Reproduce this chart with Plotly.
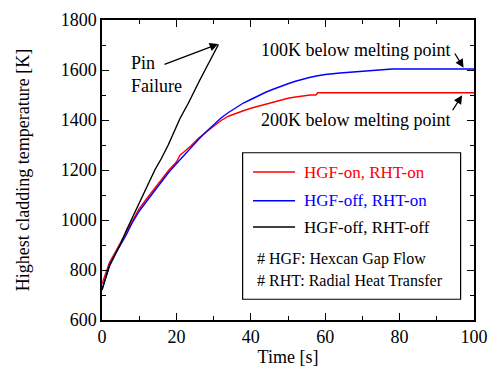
import plotly.graph_objects as go

# ---- data ----
t_red = [0, 1, 2, 3.5, 5, 6.5, 8, 10, 12, 14, 16, 18, 20, 21, 22, 24, 26, 28, 30, 32, 34, 36, 38, 40,
         42, 44, 46, 48, 50, 52, 54, 56, 57.5, 58, 100]
v_red = [745, 790, 830, 870, 910, 950, 995, 1045, 1085, 1125, 1165, 1200, 1232, 1260, 1272, 1298, 1328,
         1352, 1375, 1398, 1415, 1427, 1437, 1447, 1455, 1465, 1473, 1482, 1487, 1492, 1497, 1500, 1500,
         1509, 1509]

t_blue = [0, 1, 2, 3.5, 5, 6.5, 8, 10, 12, 14, 16, 18, 20, 22, 24, 26, 28, 30, 32, 34, 36, 38, 40, 42,
          44, 46, 48, 50, 52, 54, 56, 58, 60, 64, 68, 72, 76, 78, 100]
v_blue = [722, 775, 820, 862, 900, 940, 985, 1035, 1075, 1115, 1155, 1192, 1225, 1258, 1292, 1323, 1353,
          1382, 1408, 1430, 1450, 1468, 1482, 1497, 1511, 1523, 1535, 1545, 1555, 1564, 1571, 1577, 1582,
          1588, 1593, 1597, 1601, 1604, 1604]

t_black = [0, 1, 2, 3.5, 5, 6.6, 8.9, 11.6, 14.2, 16, 17.8, 21, 23.2, 26.3, 28.5, 31.3]
v_black = [720, 770, 815, 860, 905, 960, 1033, 1120, 1200, 1247, 1300, 1407, 1467, 1560, 1625, 1702]

series_names = ["HGF-on, RHT-on", "HGF-off, RHT-on", "HGF-off, RHT-off"]
series_colors = ["#ff0000", "#0000ff", "#000000"]
notes = ["# HGF: Hexcan Gap Flow", "# RHT: Radial Heat Transfer"]

x_ticks = [0, 20, 40, 60, 80, 100]
y_ticks = [600, 800, 1000, 1200, 1400, 1600, 1800]

FONT = "Liberation Serif"

fig = go.Figure()
for tx, vy, nm, col in zip([t_red, t_blue, t_black], [v_red, v_blue, v_black], series_names, series_colors):
    fig.add_trace(go.Scatter(x=tx, y=vy, mode="lines", name=nm,
                             line=dict(color=col, width=1.4), showlegend=False))

axis_common = dict(
    showline=True, linecolor="black", linewidth=1.5, mirror="allticks",
    ticks="inside", ticklen=7, tickwidth=1.2, tickcolor="black",
    showgrid=False, zeroline=False, automargin=False,
    tickfont=dict(family=FONT, size=18, color="black"),
    title_font=dict(family=FONT, size=18, color="black"),
)

fig.update_xaxes(range=[0, 100], tickvals=x_ticks, ticktext=[str(v) for v in x_ticks],
                 minor=dict(dtick=10, ticks="inside", ticklen=4, tickcolor="black", tickwidth=1.2),
                 title_text="Time [s]", title_standoff=2, **axis_common)
fig.update_yaxes(range=[600, 1800], tickvals=y_ticks, ticktext=[str(v) for v in y_ticks],
                 minor=dict(dtick=100, tick0=600, ticks="inside", ticklen=4, tickcolor="black", tickwidth=1.2),
                 title_text="Highest cladding temperature [K]", title_standoff=26, **axis_common)

# Legend box (manual)
x0, x1, y0, y1 = 37.8, 96.4, 683, 1269
fig.add_shape(type="rect", xref="x", yref="y", x0=x0, x1=x1, y0=y0, y1=y1,
              line=dict(color="black", width=1.2), fillcolor="white", layer="above")
leg_y = [1192, 1077, 972]
for yy, nm, col in zip(leg_y, series_names, series_colors):
    fig.add_shape(type="line", xref="x", yref="y", x0=40.6, x1=51.9, y0=yy, y1=yy,
                  line=dict(color=col, width=1.4), layer="above")
    fig.add_annotation(x=53.8, y=yy, xref="x", yref="y", text=nm, showarrow=False,
                       xanchor="left", yanchor="middle",
                       font=dict(family=FONT, size=17, color=col))
for yy, nt in zip([844, 757], notes):
    fig.add_annotation(x=41.2, y=yy, xref="x", yref="y", text=nt, showarrow=False,
                       xanchor="left", yanchor="middle",
                       font=dict(family=FONT, size=16, color="black"))

# Text annotations
fig.add_annotation(x=7.3, y=1584, xref="x", yref="y", text="Pin<br>Failure", showarrow=False,
                   xanchor="left", yanchor="middle", align="left",
                   font=dict(family=FONT, size=18, color="black"))
fig.add_annotation(x=94.2, y=1680, xref="x", yref="y", text="100K below melting point", showarrow=False,
                   xanchor="right", yanchor="middle", font=dict(family=FONT, size=18, color="black"))
fig.add_annotation(x=94.2, y=1400, xref="x", yref="y", text="200K below melting point", showarrow=False,
                   xanchor="right", yanchor="middle", font=dict(family=FONT, size=18, color="black"))

# Arrows
for (tx, ty, hx, hy) in [(16.4, 1620, 31.2, 1704), (94.6, 1672, 97.2, 1609), (94.0, 1433, 96.8, 1499)]:
    fig.add_annotation(x=hx, y=hy, ax=tx, ay=ty, xref="x", yref="y", axref="x", ayref="y",
                       text="", showarrow=True, arrowhead=2, arrowsize=1.3, arrowwidth=1.3,
                       arrowcolor="black")

fig.update_layout(
    width=490, height=374,
    margin=dict(l=102, r=16, t=20, b=54),
    paper_bgcolor="white", plot_bgcolor="white",
    font=dict(family=FONT, color="black"),
    showlegend=False,
)

fig.write_html("out.html", config={"displayModeBar": False},
               post_script="document.body.style.margin='0';document.body.style.overflow='hidden';")
